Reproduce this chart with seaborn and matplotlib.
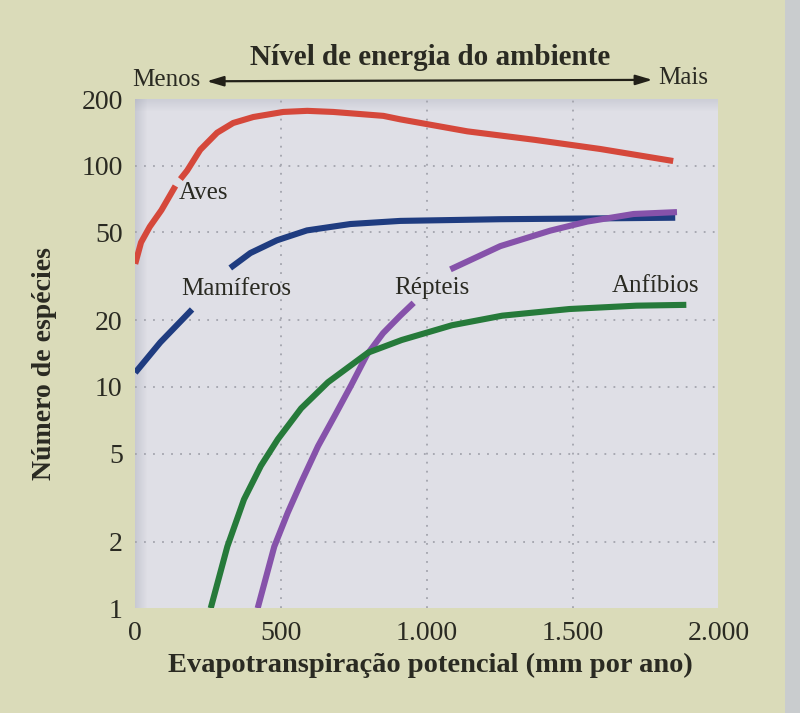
import matplotlib

matplotlib.use("Agg")
import matplotlib.pyplot as plt
import numpy as np
import pandas as pd
import seaborn as sns
from matplotlib.patches import Rectangle

# valores (np.nan = interrupção da linha junto ao rótulo)
aves_x = [0, 20, 50, 90, 138, np.nan, 155, 178, 223, 281, 336, 405, 508, 590, 679, 851, 909, 1139, 1368, 1595, 1845]
aves_y = [36, 45, 53, 63, 81, np.nan, 87, 95, 118, 141, 156, 166, 175, 177, 175, 168, 162, 143, 131, 119, 105]

mamiferos_x = [0, 86, 195, np.nan, 326, 395, 486, 589, 738, 909, 1252, 1595, 1852]
mamiferos_y = [11.6, 15.9, 22.4, np.nan, 34.5, 40.3, 46, 51, 54.5, 56.3, 57.3, 57.8, 58.2]

repteis_x = [420, 477, 523, 569, 627, 684, 741, 795, 850, 909, 955, np.nan,
             1081, 1252, 1424, 1550, 1709, 1858]
repteis_y = [1, 1.9, 2.7, 3.7, 5.4, 7.4, 10.2, 14, 17.5, 21, 24, np.nan,
             34, 43.3, 50.9, 55.9, 60.5, 61.7]

anfibios_x = [259, 316, 373, 431, 489, 569, 661, 799, 914, 1086, 1259, 1489, 1718, 1890]
anfibios_y = [1, 1.9, 3.1, 4.4, 5.8, 8, 10.5, 14.3, 16.3, 19, 21, 22.5, 23.3, 23.5]

grupos = ["Aves", "Mamíferos", "Répteis", "Anfíbios"]
cores = ["#d5483b", "#1f3c80", "#8652aa", "#267a3a"]
# posição dos rótulos (x, y, alinhamento)
rotulos = {
    "Aves": (148, 75, "left"),
    "Mamíferos": (348, 27.6, "center"),
    "Répteis": (1017, 28, "center"),
    "Anfíbios": (1786, 28.7, "center"),
}

xticks = [0, 500, 1000, 1500, 2000]
xticklabels = ["0", "500", "1.000", "1.500", "2.000"]
yticks = [1, 2, 5, 10, 20, 50, 100, 200]
yticklabels = ["1", "2", "5", "10", "20", "50", "100", "200"]

FUNDO = "#dadbb9"
AREA = "#dfdfe6"
TEXTO = "#2a2a22"


def montar_tabela():
    linhas = []
    series = [
        (aves_x, aves_y),
        (mamiferos_x, mamiferos_y),
        (repteis_x, repteis_y),
        (anfibios_x, anfibios_y),
    ]
    for grupo, (xs, ys) in zip(grupos, series):
        seg = 0
        for x, y in zip(xs, ys):
            if np.isnan(x):
                seg += 1
                continue
            linhas.append({"grupo": grupo, "seg": f"{grupo}_{seg}", "x": x, "y": y})
    return pd.DataFrame(linhas)


df = montar_tabela()

sns.set_style("white")
plt.rcParams["font.family"] = ["Liberation Serif", "DejaVu Serif"]
plt.rcParams["text.color"] = TEXTO

fig = plt.figure(figsize=(8, 7.13), dpi=100, facecolor=FUNDO)
ax = fig.add_axes([0.169, 0.147, 0.729, 0.714])
ax.set_facecolor(AREA)

# sombra suave nas bordas superior e esquerda da área do gráfico
for i in range(12):
    a = 0.28 * (1 - i / 12)
    ax.add_patch(Rectangle((i * 0.0017, 0), 0.0017, 1, transform=ax.transAxes,
                           color="#8e93a3", alpha=a, lw=0, zorder=0.5))
    ax.add_patch(Rectangle((0, 1 - (i + 1) * 0.0019), 1, 0.0019, transform=ax.transAxes,
                           color="#8e93a3", alpha=a * 0.8, lw=0, zorder=0.5))

sns.lineplot(
    data=df, x="x", y="y", hue="grupo", units="seg", estimator=None, sort=False,
    palette=dict(zip(grupos, cores)), linewidth=4.4, legend=False, ax=ax,
    solid_capstyle="butt", solid_joinstyle="round", zorder=3,
)

ax.set_yscale("log")
ax.set_xlim(0, 2000)
ax.set_ylim(1, 200)

for v in [2, 5, 10, 20, 50, 100]:
    ax.axhline(v, color="#a3a4ad", lw=1.3, ls=(0, (1, 4)), zorder=1)
for v in [500, 1000, 1500]:
    ax.axvline(v, color="#a3a4ad", lw=1.3, ls=(0, (1, 4)), zorder=1)

ax.set_xticks(xticks)
ax.set_xticklabels(xticklabels)
ax.set_yticks(yticks)
ax.set_yticklabels(yticklabels)
ax.minorticks_off()
ax.tick_params(axis="both", length=0, labelsize=20, colors=TEXTO)
ax.tick_params(axis="x", pad=9)
ax.tick_params(axis="y", pad=9)
for s in ax.spines.values():
    s.set_visible(False)
ax.set_xlabel("")
ax.set_ylabel("")

for grupo in grupos:
    x, y, ha = rotulos[grupo]
    ax.text(x, y, grupo, ha=ha, va="center", fontsize=18, color=TEXTO, zorder=4)

fig.text(0.5375, 0.919, "Nível de energia do ambiente", ha="center", va="center",
         fontsize=21, fontweight="bold")
fig.text(0.25, 0.888, "Menos", ha="right", va="center", fontsize=18)
fig.text(0.8225, 0.890, "Mais", ha="left", va="center", fontsize=18)
fig.add_artist(matplotlib.patches.FancyArrowPatch(
    (0.255, 0.886), (0.819, 0.888), transform=fig.transFigure,
    arrowstyle="<|-|>,head_length=10,head_width=3", color="#222018", lw=1.6,
    mutation_scale=1,
))

fig.text(0.056, 0.49, "Número de espécies", rotation=90, ha="center", va="center",
         fontsize=20, fontweight="bold")
fig.text(0.5375, 0.067, "Evapotranspiração potencial (mm por ano)", ha="center",
         va="center", fontsize=20.5, fontweight="bold")

# faixa clara na borda direita da foto
fig.add_artist(Rectangle((0.981, 0), 0.019, 1, transform=fig.transFigure,
                         color="#c9ccce", lw=0))

fig.savefig("out.png", dpi=100, facecolor=FUNDO)
